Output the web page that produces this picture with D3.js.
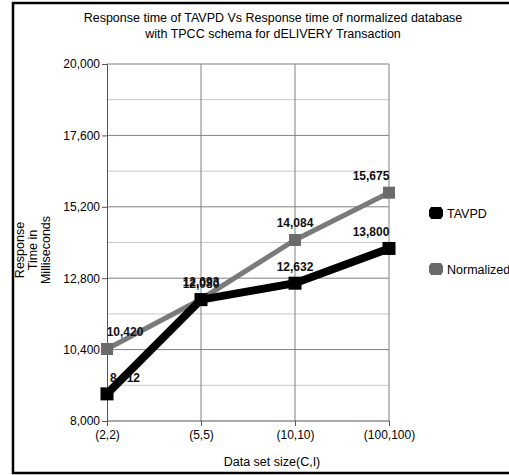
<!DOCTYPE html>
<html>
<head>
<meta charset="utf-8">
<script src="https://cdn.jsdelivr.net/npm/d3@7"></script>
<style>
    body { margin: 0; background: #fff; }
    text { font-family: Arial, "Liberation Sans", sans-serif; }
</style>
</head>
<body>
<div id="chart"></div>
<script>
// chart data
var categories = ["(2,2)", "(5,5)", "(10,10)", "(100,100)"];
var tavpd = [8912, 12080, 12632, 13800];
var normalized = [10420, 12093, 14084, 15675];
var yTicks = [8000, 10400, 12800, 15200, 17600, 20000];
var yMinor = [9200, 11600, 14000, 16400, 18800];
var seriesNames = ["TAVPD", "Normalized"];

var width = 509, height = 475;
var plotLeft = 107, plotRight = 389, plotTop = 64, plotBottom = 421;

var svg = d3.select("#chart").append("svg")
    .attr("width", width)
    .attr("height", height);

// outer frame
svg.append("rect")
    .attr("x", 13).attr("y", 3)
    .attr("width", 510).attr("height", 470)
    .attr("fill", "none")
    .attr("stroke", "#000")
    .attr("stroke-width", 2.5);

var x = d3.scalePoint().domain(categories).range([plotLeft, plotRight]);
var y = d3.scaleLinear().domain([8000, 20000]).range([plotBottom, plotTop]);

// minor gridlines
svg.selectAll("line.minor")
    .data(yMinor).enter().append("line")
    .attr("class", "minor")
    .attr("x1", plotLeft).attr("x2", plotRight)
    .attr("y1", d => y(d)).attr("y2", d => y(d))
    .attr("stroke", "#c8c8c8");

// major gridlines
svg.selectAll("line.major")
    .data(yTicks.slice(1)).enter().append("line")
    .attr("class", "major")
    .attr("x1", plotLeft).attr("x2", plotRight)
    .attr("y1", d => y(d)).attr("y2", d => y(d))
    .attr("stroke", "#808080");

svg.selectAll("line.vgrid")
    .data(categories.slice(1)).enter().append("line")
    .attr("class", "vgrid")
    .attr("x1", d => x(d)).attr("x2", d => x(d))
    .attr("y1", plotTop).attr("y2", plotBottom)
    .attr("stroke", "#808080");

// axes
var yAxis = svg.append("g")
    .attr("transform", "translate(" + plotLeft + ",0)")
    .call(d3.axisLeft(y).tickValues(yTicks).tickSize(5).tickPadding(2).tickFormat(d3.format(",")));
yAxis.select(".domain").attr("stroke", "#555");
yAxis.selectAll(".tick line").attr("stroke", "#555");
yAxis.selectAll("text").attr("font-size", 12).attr("fill", "#000")
    .attr("font-family", "Arial, 'Liberation Sans', sans-serif");

var xAxis = svg.append("g")
    .attr("transform", "translate(0," + plotBottom + ")")
    .call(d3.axisBottom(x).tickSize(5).tickPadding(4).tickSizeOuter(0));
xAxis.select(".domain").attr("stroke", "#555").attr("d", "M" + plotLeft + ",0H" + plotRight);
xAxis.selectAll(".tick line").attr("stroke", "#555");
xAxis.selectAll("text").attr("font-size", 12).attr("fill", "#000")
    .attr("font-family", "Arial, 'Liberation Sans', sans-serif");

// lines
var line = d3.line().x((d, i) => x(categories[i])).y(d => y(d));

svg.append("path").datum(normalized)
    .attr("d", line)
    .attr("fill", "none")
    .attr("stroke", "#7a7a7a")
    .attr("stroke-width", 5);

svg.append("path").datum(tavpd)
    .attr("d", line)
    .attr("fill", "none")
    .attr("stroke", "#000")
    .attr("stroke-width", 8);

// markers
function markers(data, color, size) {
    svg.selectAll(null)
        .data(data).enter().append("rect")
        .attr("x", (d, i) => x(categories[i]) - size / 2)
        .attr("y", d => y(d) - size / 2)
        .attr("width", size).attr("height", size)
        .attr("fill", color);
}
markers(normalized, "#6a6a6a", 12);
markers(tavpd, "#000", 13);

// data labels
function labels(data, dy) {
    svg.selectAll(null)
        .data(data).enter().append("text")
        .attr("x", (d, i) => Math.min(Math.max(x(categories[i]), plotLeft + 18), plotRight - 18))
        .attr("y", d => y(d) - dy)
        .attr("text-anchor", "middle")
        .attr("font-size", 12)
        .attr("font-weight", "bold")
        .attr("fill", "#111")
        .text(d => d3.format(",")(d));
}
labels(normalized, 13);
labels(tavpd, 12);

// title
var title = svg.append("text")
    .attr("text-anchor", "middle")
    .attr("font-size", 12.5)
    .attr("fill", "#000");
title.append("tspan").attr("x", 273).attr("y", 22)
    .text("Response time of TAVPD Vs Response time of normalized database");
title.append("tspan").attr("x", 273).attr("y", 38)
    .text("with TPCC schema for dELIVERY Transaction");

// axis titles
svg.append("text")
    .attr("x", 272).attr("y", 466)
    .attr("text-anchor", "middle")
    .attr("font-size", 12.5)
    .text("Data set size(C,I)");

var yTitle = svg.append("text")
    .attr("transform", "translate(0,250) rotate(-90)")
    .attr("text-anchor", "middle")
    .attr("font-size", 12.5);
["Response", "Time in", "Milliseconds"].forEach(function(t, i) {
    yTitle.append("tspan").attr("x", 0).attr("y", 24 + i * 13).text(t);
});

// legend
var legendY = [213, 269];
var legendColor = ["#000", "#6a6a6a"];
seriesNames.forEach(function(name, i) {
    svg.append("path")
        .attr("d", "M" + 431 + "," + (legendY[i] - 6) + "h10l2,3v6l-2,3h-10l-2,-3v-6z")
        .attr("fill", legendColor[i]);
    svg.append("text")
        .attr("x", 447).attr("y", legendY[i] + 5)
        .attr("font-size", 12.5)
        .text(name);
});
</script>
</body>
</html>
